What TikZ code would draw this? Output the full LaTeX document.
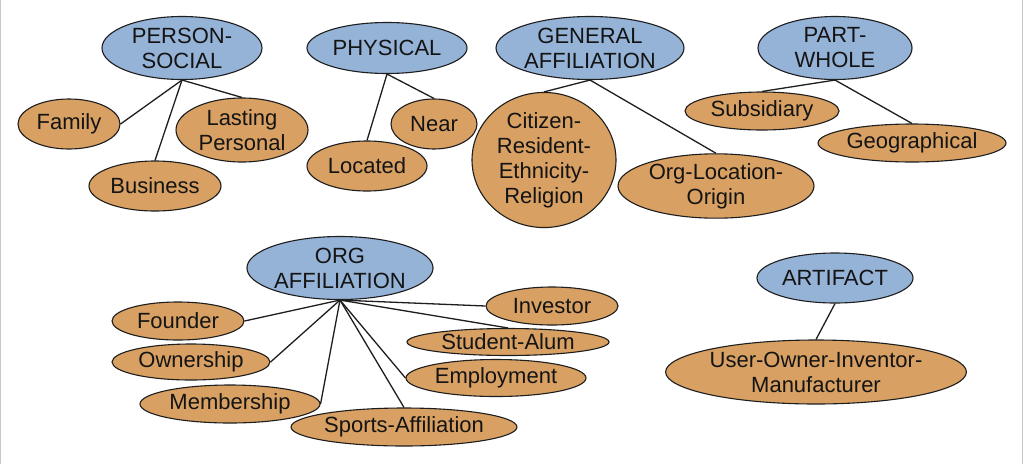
\documentclass[tikz,border=0pt]{standalone}
\usepackage{fontspec}
\setmainfont{Liberation Sans}
\usetikzlibrary{shapes.geometric}
\definecolor{catblue}{RGB}{149,178,215}
\definecolor{suborange}{RGB}{216,160,98}
\definecolor{edgegray}{RGB}{30,30,30}
\definecolor{framegray}{RGB}{200,200,200}
\tikzset{
  base/.style={ellipse, draw=edgegray, line width=1.1pt, inner sep=0pt, align=center,
    font=\fontsize{22}{25}\selectfont, text=black!92},
  cat/.style={base, fill=catblue},
  sub/.style={base, fill=suborange},
  link/.style={draw=edgegray, line width=1.3pt},
}
\begin{document}
\begin{tikzpicture}[x=1pt, y=-1pt]
\useasboundingbox (0,0) rectangle (1024,464);
\fill[white] (0,0) rectangle (1024,464);
\draw[framegray, line width=1.2pt] (0.6,0) -- (0.6,464);
\draw[framegray, line width=1.2pt] (1022.4,0) -- (1022.4,464);

% top row categories
\node[cat, minimum width=160pt, minimum height=63pt] (ps) at (182,48) {PERSON-\\SOCIAL};
\node[cat, minimum width=160pt, minimum height=51pt] (phys) at (387,48) {PHYSICAL};
\node[cat, minimum width=188pt, minimum height=63pt] (ga) at (590,48) {GENERAL\\AFFILIATION};
\node[cat, minimum width=154pt, minimum height=63pt] (pw) at (835,48) {PART-\\WHOLE};

% person-social
\node[sub, minimum width=102pt, minimum height=50pt] (fam) at (69,124) {Family};
\node[sub, minimum width=132pt, minimum height=64pt] (lp) at (242,130) {Lasting\\Personal};
\node[sub, minimum width=132pt, minimum height=50pt] (bus) at (155,186) {Business};
% physical
\node[sub, minimum width=86pt, minimum height=50pt] (near) at (434,124) {Near};
\node[sub, minimum width=120pt, minimum height=50pt] (loc) at (367,166) {Located};
% general affiliation
\node[sub, minimum width=144pt, minimum height=113pt] (cit) at (544,160) {Citizen-\\Resident-\\Ethnicity-\\Religion};
\node[sub, minimum width=196pt, minimum height=62pt] (olo) at (716,186) {Org-Location-\\Origin};
% part-whole
\node[sub, minimum width=154pt, minimum height=38pt] (subs) at (762,111) {Subsidiary};
\node[sub, minimum width=188pt, minimum height=38pt] (geo) at (912,143) {Geographical};

% org affiliation
\node[cat, minimum width=186pt, minimum height=63pt] (org) at (340,268) {ORG\\AFFILIATION};
\node[sub, minimum width=132pt, minimum height=38pt] (fou) at (178,321) {Founder};
\node[sub, minimum width=158pt, minimum height=36pt] (own) at (191,362) {Ownership};
\node[sub, minimum width=180pt, minimum height=38pt] (mem) at (230,404) {Membership};
\node[sub, minimum width=220pt, minimum height=38pt] (spo) at (404,427) {Sports-Affiliation};
\node[sub, minimum width=132pt, minimum height=38pt] (inv) at (552,306) {Investor};
\node[sub, minimum width=202pt, minimum height=27pt] (stu) at (508,342) {Student-Alum};
\node[sub, minimum width=180pt, minimum height=37pt] (emp) at (496,378) {Employment};

% artifact
\node[cat, minimum width=156pt, minimum height=50pt] (art) at (835,278) {ARTIFACT};
\node[sub, minimum width=290pt, minimum height=64pt] (uoi) at (816,372) {User-Owner-Inventor-\\Manufacturer};

% connectors
\draw[link] (ps.south) -- (fam.east);
\draw[link] (ps.south) -- (bus.north);
\draw[link] (ps.south) -- (lp.north);
\draw[link] (phys.south) -- (loc.north);
\draw[link] (phys.south) -- (near.north);
\draw[link] (ga.south) -- (cit.north);
\draw[link] (ga.south) -- (olo.north);
\draw[link] (pw.south) -- (subs.north);
\draw[link] (pw.south) -- (geo.north);
\draw[link] (org.south) -- (fou.east);
\draw[link] (org.south) -- (own.east);
\draw[link] (org.south) -- (mem.east);
\draw[link] (org.south) -- (spo.north);
\draw[link] (org.south) -- (emp.west);
\draw[link] (org.south) -- (stu.north);
\draw[link] (org.south) -- (inv.west);
\draw[link] (art.south) -- (uoi.north);
\end{tikzpicture}
\end{document}
